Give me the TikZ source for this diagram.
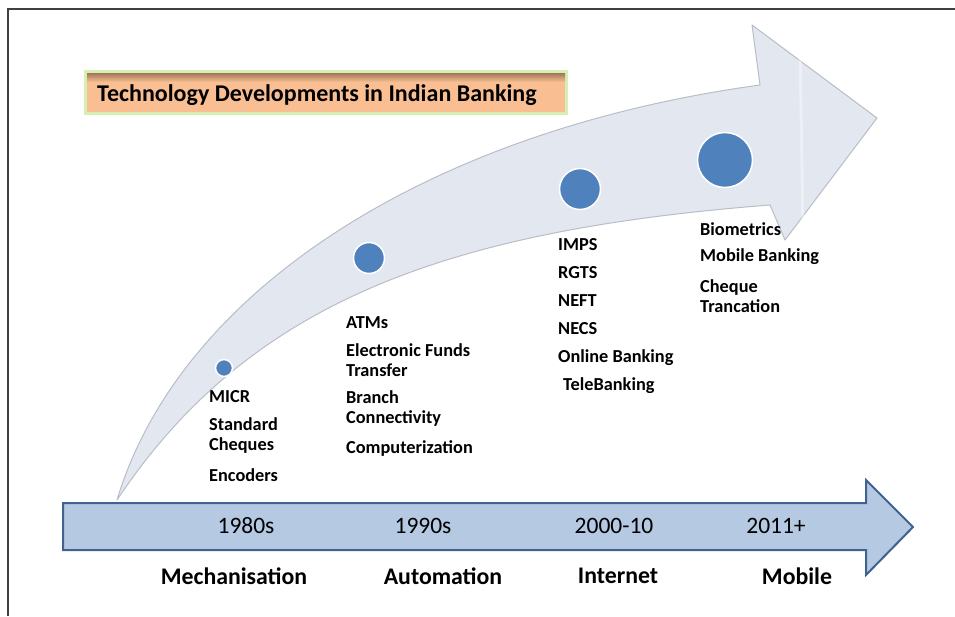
\documentclass[tikz,border=0pt]{standalone}
\usepackage{fontspec}
\setmainfont{Carlito}
\usepackage{tikz}
\usetikzlibrary{positioning}

\definecolor{dotblue}{RGB}{79,129,189}
\definecolor{barfill}{RGB}{181,201,226}
\definecolor{barline}{RGB}{64,98,143}
\definecolor{curvefill}{RGB}{226,231,240}
\definecolor{curveline}{RGB}{185,189,197}
\definecolor{titlefill}{RGB}{249,191,147}
\definecolor{titletop}{RGB}{160,118,88}
\definecolor{glow}{RGB}{214,240,180}

\begin{document}
\begin{tikzpicture}[x=1pt, y=-1pt,
    dot/.style={circle, draw=white, line width=1.5pt, fill=dotblue, inner sep=0pt},
    item/.style={anchor=west, align=left, inner sep=0pt,
        font=\bfseries\fontsize{18.3}{20}\selectfont},
    year/.style={font=\fontsize{23.5}{26}\selectfont},
    era/.style={font=\bfseries\fontsize{23.8}{26}\selectfont}]
    \useasboundingbox (0,0) rectangle (955,616);

    % frame
    \draw[line width=1.5pt, black!75] (8,616) -- (8,9) -- (955,9);

    % curved arrow
    \draw[fill=curvefill, draw=curveline, line width=1pt, line join=round]
        (117,500) .. controls (180,290) and (430,130) .. (760,85)
        -- (752,25) -- (877,118) -- (785,240) -- (770,205)
        .. controls (450,230) and (250,300) .. cycle;
    \draw[white, line width=3pt, opacity=0.4] (800,48) -- (803,228);

    % title box
    \fill[glow] (84,70) rectangle (568,115);
    \fill[titlefill] (87,73) rectangle (565,112);
    \shade[top color=titletop, bottom color=titlefill] (87,73) rectangle (565,82);
    \node[anchor=west, inner sep=0pt, font=\bfseries\fontsize{24}{28}\selectfont]
        (title) at (97,95) {Technology Developments in Indian Banking};

    % timeline arrow
    \draw[fill=barfill, draw=barline, line width=2pt, line join=miter]
        (63,503) -- (866,503) -- (866,480) -- (913,527) -- (866,575)
        -- (866,550) -- (63,550) -- cycle;
    \node[year] (y80) at (246,526) {1980s};
    \node[year] (y90) at (423,526) {1990s};
    \node[year] (y00) at (614,526) {2000-10};
    \node[year] (y11) at (776,526) {2011+};

    \node[era] (mech) at (234,576) {Mechanisation};
    \node[era] (auto) at (443,576) {Automation};
    \node[era] (inet) at (618,576) {Internet};
    \node[era] (mob) at (797,576) {Mobile};

    % milestones
    \node[dot, minimum size=17pt] (d80) at (224,368) {};
    \node[dot, minimum size=31pt] (d90) at (369,258) {};
    \node[dot, minimum size=41pt] (d00) at (580,189) {};
    \node[dot, minimum size=55pt] (d11) at (725,160) {};

    % 1980s
    \node[item] (micr) at (209,397) {MICR};
    \node[item] (cheq) at (209,436) {Standard\\Cheques};
    \node[item] (enc) at (209,475) {Encoders};

    % 1990s
    \node[item] (atm) at (346,323) {ATMs};
    \node[item] (eft) at (346,360) {Electronic Funds\\Transfer};
    \node[item] (branch) at (346,409) {Branch\\Connectivity};
    \node[item] (comp) at (346,448) {Computerization};

    % 2000-10
    \node[item] (imps) at (558,245) {IMPS};
    \node[item] (rgts) at (558,273) {RGTS};
    \node[item] (neft) at (558,301) {NEFT};
    \node[item] (necs) at (558,329) {NECS};
    \node[item] (online) at (558,358) {Online Banking};
    \node[item] (tele) at (563,386) {TeleBanking};

    % 2011+
    \node[item] (bio) at (700,229) {Biometrics};
    \node[item] (mbank) at (700,257) {Mobile Banking};
    \node[item] (trunc) at (700,296) {Cheque\\Trancation};
\end{tikzpicture}
\end{document}
